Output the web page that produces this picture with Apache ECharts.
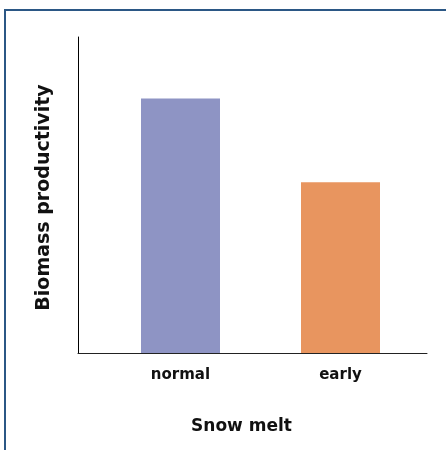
<!DOCTYPE html>
<html lang="en">
<head>
  <meta charset="UTF-8">
  <title>Biomass productivity</title>
  <style>
    html, body { margin: 0; padding: 0; overflow: hidden; background: #fff; }
    #frame { position: absolute; left: 4px; top: 9px; width: 600px; height: 600px; border: 2px solid #2b5785; }
    #main { position: absolute; left: 0; top: 0; width: 446px; height: 450px; }
  </style>
</head>
<body>
  <div id="frame"></div>
  <div id="main"></div>

  <script src="https://cdn.jsdelivr.net/npm/echarts@6/dist/echarts.min.js"></script>
  <script>
    var categories = ['normal', 'early']
    var values = [80.5, 54]
    var barColors = ['#8e94c4', '#e8955f']

    var myChart = echarts.init(document.getElementById('main'))
    var font = 'DejaVu Sans'

    var options = {
      animation: false,
      grid: [
        // grid 0: just the two axis lines
        { left: 78, top: 37, width: 349, height: 316 },
        // grid 1: the bars
        { left: 100.5, top: 37, width: 320, height: 316 }
      ],
      xAxis: [
        {
          gridIndex: 0,
          type: 'value',
          min: 0,
          max: 1,
          axisLine: { show: true, lineStyle: { color: '#222', width: 1 } },
          axisTick: { show: false },
          axisLabel: { show: false },
          splitLine: { show: false },
          name: 'Snow melt',
          nameLocation: 'middle',
          nameGap: 65,
          nameTextStyle: {
            fontFamily: font, fontWeight: 'bold', fontSize: 17, color: '#111',
            padding: [0, 22, 0, 0]
          }
        },
        {
          gridIndex: 1,
          type: 'category',
          data: categories,
          axisLine: { show: false },
          axisTick: { show: false },
          axisLabel: {
            margin: 15,
            fontFamily: font, fontWeight: 'bold', fontSize: 15, color: '#111'
          }
        }
      ],
      yAxis: [
        {
          gridIndex: 0,
          type: 'value',
          min: 0,
          max: 1,
          axisLine: { show: true, lineStyle: { color: '#000', width: 1 } },
          axisTick: { show: false },
          axisLabel: { show: false },
          splitLine: { show: false },
          name: 'Biomass productivity',
          nameLocation: 'middle',
          nameGap: 24,
          nameTextStyle: {
            fontFamily: font, fontWeight: 'bold', fontSize: 19, color: '#111',
            padding: [0, 5, 0, 0]
          }
        },
        {
          gridIndex: 1,
          type: 'value',
          min: 0,
          max: 100,
          show: false
        }
      ],
      series: [
        {
          type: 'bar',
          xAxisIndex: 1,
          yAxisIndex: 1,
          barWidth: 79,
          data: values.map(function (v, i) {
            return { value: v, itemStyle: { color: barColors[i] } }
          })
        }
      ]
    }

    myChart.setOption(options)
  </script>
</body>
</html>
